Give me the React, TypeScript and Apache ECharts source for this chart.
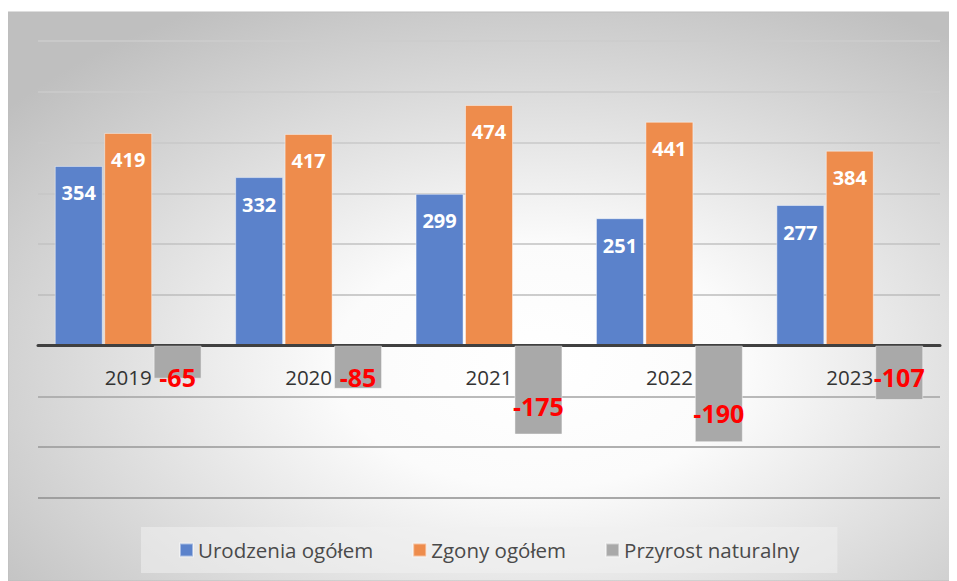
import React, { useEffect, useRef } from "react";
import * as echarts from "echarts";

const categories = ["2019", "2020", "2021", "2022", "2023"];
const births = [354, 332, 299, 251, 277];
const deaths = [419, 417, 474, 441, 384];
const growth = [-65, -85, -175, -190, -107];
const seriesNames = ["Urodzenia ogółem", "Zgony ogółem", "Przyrost naturalny"];
const yMin = -300;
const yMax = 600;
const yInterval = 100;

const W = 949;
const H = 573;
const GRID = { left: 30, right: 17, top: 33, bottom: 83 };
const FONT = "'Open Sans', 'Noto Sans', sans-serif";

export default function App() {
  const ref = useRef<HTMLDivElement>(null);
  useEffect(() => {
    if (!ref.current) return;
    const chart = echarts.init(ref.current, undefined, { renderer: "svg" });
    const plotH = H - GRID.top - GRID.bottom;
    const pxPerUnit = plotH / (yMax - yMin);
    const growthData = growth.map((v) => {
      const barLen = Math.abs(v) * pxPerUnit;
      const natural = barLen - 29;
      const dy = Math.max(0, 31 - natural);
      return { value: v, label: { offset: [0, dy] } };
    });
    const lineColors = [
      "#8e8e8e", "#979797", "#a3a3a3", "#9a9a9a", "#bcbcbc",
      "#c2c2c2", "#c6c6c6", "#c9c9c9", "#cbcbcb", "#cdcdcd",
    ];
    const whiteLabel = {
      show: true,
      position: "insideTop",
      distance: 16,
      color: "#ffffff",
      fontWeight: "bold",
      fontSize: 20,
      lineHeight: 22,
      fontFamily: FONT,
    };
    chart.setOption({
      animation: false,
      backgroundColor: "transparent",
      graphic: [
        {
          type: "rect",
          z: -10,
          silent: true,
          shape: { x: 0, y: 4, width: W, height: H - 4 },
          style: {
            fill: {
              type: "radial",
              x: 0.56,
              y: 0.62,
              r: 0.72,
              colorStops: [
                { offset: 0, color: "#ffffff" },
                { offset: 0.3, color: "#fbfbfb" },
                { offset: 1, color: "#bfbfbf" },
              ],
            },
            stroke: "#bdbdbd",
            lineWidth: 1,
          },
        },
      ],
      grid: { ...GRID, containLabel: false },
      legend: {
        data: seriesNames,
        left: 133,
        top: 519,
        padding: [12, 38, 12, 38],
        backgroundColor: "rgba(240,240,240,0.55)",
        itemWidth: 13,
        itemHeight: 13,
        itemGap: 39,
        icon: "rect",
        textStyle: { color: "#4a4a4a", fontSize: 20.5, fontFamily: FONT, lineHeight: 22 },
      },
      xAxis: {
        type: "category",
        data: categories,
        axisLine: { onZero: true, lineStyle: { color: "#404040", width: 3 } },
        axisTick: { show: false },
        axisLabel: { show: false },
        z: 3,
      },
      yAxis: {
        type: "value",
        min: yMin,
        max: yMax,
        interval: yInterval,
        axisLabel: { show: false },
        axisLine: { show: false },
        axisTick: { show: false },
        splitLine: { lineStyle: { color: lineColors, width: 1.5 } },
      },
      series: [
        {
          name: seriesNames[0],
          type: "bar",
          data: births,
          barWidth: 48,
          barGap: "3%",
          itemStyle: { color: "#5b82cb", borderColor: "rgba(255,255,255,0.45)", borderWidth: 1 },
          label: whiteLabel,
        },
        {
          name: seriesNames[1],
          type: "bar",
          data: deaths,
          barWidth: 48,
          barGap: "3%",
          itemStyle: { color: "#ee8c4c", borderColor: "rgba(255,255,255,0.45)", borderWidth: 1 },
          label: whiteLabel,
        },
        {
          name: seriesNames[2],
          type: "bar",
          data: growthData,
          barWidth: 48,
          barGap: "3%",
          z: 4,
          itemStyle: { color: "#a9a9a9", borderColor: "rgba(255,255,255,0.45)", borderWidth: 1 },
          label: {
            show: true,
            position: "insideBottom",
            distance: 16,
            color: "#ff0000",
            fontWeight: "bold",
            fontSize: 25,
            lineHeight: 26,
            fontFamily: FONT,
          },
        },
        {
          name: "categoryLabels",
          type: "scatter",
          data: categories.map((c) => [c, 0]),
          symbolSize: 0,
          silent: true,
          z: 3,
          itemStyle: { color: "#333333", opacity: 1 },
          label: {
            show: true,
            position: "inside",
            offset: [0, 31],
            formatter: (p: any) => p.value[0],
            color: "#333333",
            opacity: 1,
            fontSize: 20.5,
            fontFamily: FONT,
          },
        },
      ],
    });
    return () => chart.dispose();
  }, []);
  return <div ref={ref} style={{ width: W, height: H }} />;
}
